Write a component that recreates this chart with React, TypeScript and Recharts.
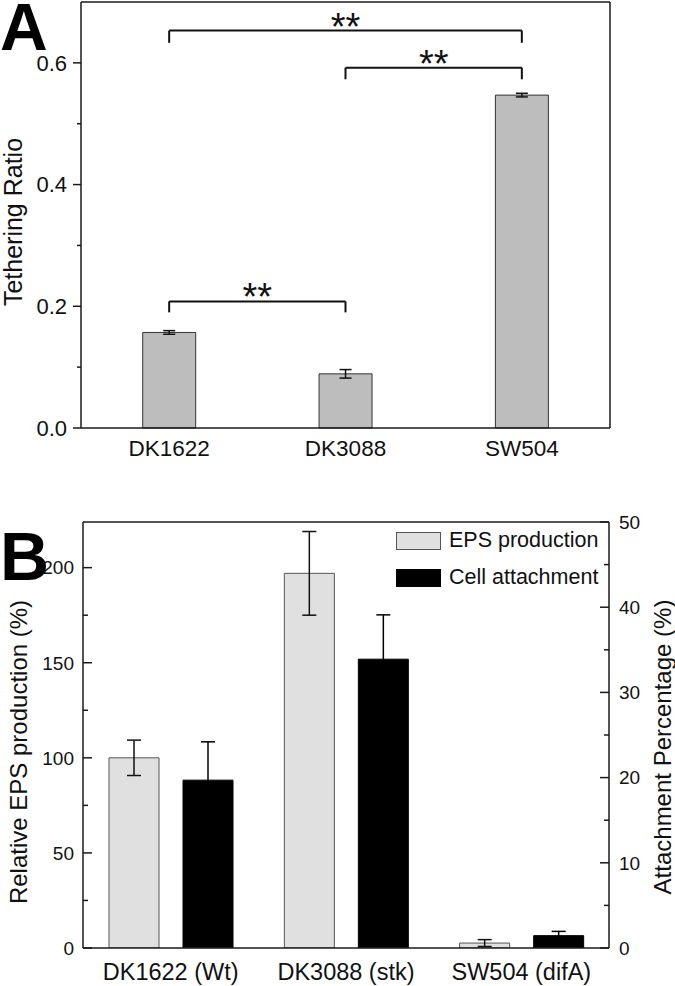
import React from 'react';
import { BarChart, Bar, XAxis, YAxis, ErrorBar, ReferenceLine, Legend } from 'recharts';

const FONT = '"Liberation Sans", Arial, Helvetica, sans-serif';

// ---------- Panel A ----------
const strainsA = ['DK1622', 'DK3088', 'SW504'];
const tetheringRatio = [0.157, 0.089, 0.547];
const tetheringError = [0.003, 0.007, 0.003];
const yTicksA = [0, 0.1, 0.2, 0.3, 0.4, 0.5, 0.6];
const yDomainA = [0, 0.7];
const edgeTicksA = [0, 3];
const bracketsA = [
  { from: 'DK1622', to: 'SW504', top: 0.653, leg: 0.633, label: '**' },
  { from: 'DK3088', to: 'SW504', top: 0.592, leg: 0.573, label: '**' },
  { from: 'DK1622', to: 'DK3088', top: 0.208, leg: 0.19, label: '**' },
];

// ---------- Panel B ----------
const strainsB = ['DK1622 (Wt)', 'DK3088 (stk)', 'SW504 (difA)'];
const seriesNamesB = ['EPS production', 'Cell attachment'];
const epsProduction = [100, 197, 2.6];
const epsError = [9.3, 22, 1.8];
const cellAttachment = [19.7, 33.9, 1.45];
const cellError = [4.5, 5.2, 0.5];
const yTicksBLeft = [0, 25, 50, 75, 100, 125, 150, 175, 200];
const yDomainBLeft = [0, 224];
const yTicksBRight = [0, 5, 10, 15, 20, 25, 30, 35, 40, 45, 50];
const yDomainBRight = [0, 50];
const edgeTicksB = [0, 1, 2, 3];

const dataA = strainsA.map((s, i) => ({ strain: s, ratio: tetheringRatio[i], err: tetheringError[i] }));
const dataB = strainsB.map((s, i) => ({
  strain: s,
  eps: epsProduction[i],
  epsErr: epsError[i],
  cell: cellAttachment[i],
  cellErr: cellError[i],
}));

const AXIS = '#1a1a1a';

const LeftTickA = (props: any) => {
  const { x, y, payload } = props;
  const v = payload.value as number;
  const major = Math.round(v * 10) % 2 === 0;
  return (
    <g>
      <line x1={x} y1={y} x2={x - (major ? 8 : 4)} y2={y} stroke={AXIS} strokeWidth={1.5} />
      {major && (
        <text x={x - 14} y={y} dy="0.36em" textAnchor="end" fontSize={22} fontFamily={FONT} fill="#111">
          {v.toFixed(1)}
        </text>
      )}
    </g>
  );
};

const LeftTickB = (props: any) => {
  const { x, y, payload } = props;
  const v = payload.value as number;
  const major = v % 50 === 0;
  return (
    <g>
      <line x1={x} y1={y} x2={x + (major ? 9 : 5)} y2={y} stroke={AXIS} strokeWidth={1.5} />
      {major && (
        <text x={x - 9} y={y} dy="0.36em" textAnchor="end" fontSize={19} fontFamily={FONT} fill="#111">
          {v}
        </text>
      )}
    </g>
  );
};

const RightTickB = (props: any) => {
  const { x, y, payload } = props;
  const v = payload.value as number;
  const major = v % 10 === 0;
  return (
    <g>
      <line x1={x} y1={y} x2={x - (major ? 9 : 5)} y2={y} stroke={AXIS} strokeWidth={1.5} />
      {major && (
        <text x={x + 10} y={y} dy="0.36em" textAnchor="start" fontSize={19} fontFamily={FONT} fill="#111">
          {v}
        </text>
      )}
    </g>
  );
};

const starLabel = (text: string) => (props: any) => {
  const vb = props.viewBox || {};
  const cx = (vb.x || 0) + (vb.width || 0) / 2;
  const y = vb.y || 0;
  return (
    <text x={cx} y={y + 9} textAnchor="middle" fontSize={38} fontFamily={FONT} fill="#111">
      {text}
    </text>
  );
};

const renderLegend = (props: any) => {
  const payload = [...(props.payload || [])].sort(
    (a: any, b: any) => seriesNamesB.indexOf(a.value) - seriesNamesB.indexOf(b.value)
  );
  return (
    <div style={{ fontFamily: FONT }}>
      {payload.map((entry: any, i: number) => (
        <div key={i} style={{ display: 'flex', alignItems: 'center', height: 37 }}>
          <div
            style={{
              width: 45,
              height: 18,
              background: entry.color,
              border: `1.5px solid ${entry.value === seriesNamesB[0] ? '#555' : '#000'}`,
              boxSizing: 'border-box',
            }}
          />
          <span style={{ marginLeft: 8, fontSize: 21.5, color: '#111', whiteSpace: 'nowrap' }}>{entry.value}</span>
        </div>
      ))}
    </div>
  );
};

export default function App() {
  return (
    <div style={{ position: 'absolute', left: 0, top: 0, width: 675, height: 986, background: '#fff', fontFamily: FONT }}>
      {/* Panel A */}
      <div style={{ position: 'absolute', left: 0, top: 0 }}>
        <BarChart
          width={675}
          height={470}
          data={dataA}
          margin={{ top: 1, right: 64, bottom: 40, left: 21 }}
          barCategoryGap="35%"
        >
          <XAxis
            xAxisId="cat"
            dataKey="strain"
            height={1}
            axisLine={{ stroke: AXIS, strokeWidth: 1.5 }}
            tickLine={false}
            tickSize={0}
            tickMargin={12}
            tick={{ fontSize: 22.5, fill: '#111', fontFamily: FONT }}
            interval={0}
          />
          <XAxis
            xAxisId="edge"
            type="number"
            domain={[0, 3]}
            ticks={edgeTicksA}
            allowDataOverflow
            height={1}
            axisLine={false}
            tickLine={{ stroke: AXIS, strokeWidth: 1.5 }}
            tickSize={8}
            tick={false}
          />
          <XAxis
            xAxisId="top"
            dataKey="strain"
            orientation="top"
            height={1}
            axisLine={{ stroke: AXIS, strokeWidth: 1.5 }}
            tickLine={false}
            tick={false}
          />
          <YAxis
            yAxisId="a"
            domain={yDomainA}
            ticks={yTicksA}
            width={60}
            interval={0}
            axisLine={{ stroke: AXIS, strokeWidth: 1.5 }}
            tickLine={false}
            tickSize={0}
            tickMargin={0}
            tick={<LeftTickA />}
          />
          <YAxis
            yAxisId="frame"
            orientation="right"
            domain={yDomainA}
            width={1}
            axisLine={{ stroke: AXIS, strokeWidth: 1.5 }}
            tickLine={false}
            tick={false}
          />
          <Bar
            xAxisId="cat"
            yAxisId="a"
            dataKey="ratio"
            fill="#bdbdbd"
            stroke="#333"
            strokeWidth={1}
            isAnimationActive={false}
          >
            <ErrorBar dataKey="err" width={6} stroke="#111" strokeWidth={1.5} />
          </Bar>
          {bracketsA.map((b, i) => (
            <ReferenceLine
              key={`h${i}`}
              xAxisId="cat"
              yAxisId="a"
              segment={[
                { x: b.from, y: b.top },
                { x: b.to, y: b.top },
              ]}
              stroke="#111"
              strokeWidth={2}
              label={starLabel(b.label)}
            />
          ))}
          {bracketsA.map((b, i) => (
            <ReferenceLine
              key={`l${i}`}
              xAxisId="cat"
              yAxisId="a"
              segment={[
                { x: b.from, y: b.top },
                { x: b.from, y: b.leg },
              ]}
              stroke="#111"
              strokeWidth={2}
            />
          ))}
          {bracketsA.map((b, i) => (
            <ReferenceLine
              key={`r${i}`}
              xAxisId="cat"
              yAxisId="a"
              segment={[
                { x: b.to, y: b.top },
                { x: b.to, y: b.leg },
              ]}
              stroke="#111"
              strokeWidth={2}
            />
          ))}
        </BarChart>
      </div>

      {/* Panel B */}
      <div style={{ position: 'absolute', left: 0, top: 480 }}>
        <BarChart
          width={675}
          height={506}
          data={dataB}
          margin={{ top: 41, right: 6, bottom: 36, left: 23 }}
          barCategoryGap={26}
          barGap={24}
        >
          <XAxis
            xAxisId="cat"
            dataKey="strain"
            height={1}
            axisLine={{ stroke: AXIS, strokeWidth: 1.5 }}
            tickLine={false}
            tickSize={0}
            tickMargin={15}
            tick={{ fontSize: 23.5, fill: '#111', fontFamily: FONT }}
            interval={0}
          />
          <XAxis
            xAxisId="edge"
            type="number"
            domain={[0, 3]}
            ticks={edgeTicksB}
            allowDataOverflow
            height={1}
            axisLine={false}
            tickLine={{ stroke: AXIS, strokeWidth: 1.5 }}
            tickSize={8}
            tick={false}
          />
          <XAxis
            xAxisId="top"
            dataKey="strain"
            orientation="top"
            height={1}
            axisLine={{ stroke: AXIS, strokeWidth: 1.5 }}
            tickLine={false}
            tick={false}
          />
          <YAxis
            yAxisId="left"
            domain={yDomainBLeft}
            ticks={yTicksBLeft}
            allowDataOverflow
            width={60}
            interval={0}
            axisLine={{ stroke: AXIS, strokeWidth: 1.5 }}
            tickLine={false}
            tickSize={0}
            tickMargin={0}
            tick={<LeftTickB />}
          />
          <YAxis
            yAxisId="right"
            orientation="right"
            domain={yDomainBRight}
            ticks={yTicksBRight}
            allowDataOverflow
            width={60}
            interval={0}
            axisLine={{ stroke: AXIS, strokeWidth: 1.5 }}
            tickLine={false}
            tickSize={0}
            tickMargin={0}
            tick={<RightTickB />}
          />
          <Legend
            layout="horizontal"
            align="center"
            verticalAlign="middle"
            content={renderLegend}
            wrapperStyle={{ left: 396, top: 42, width: 'auto' }}
          />
          <Bar
            xAxisId="cat"
            yAxisId="left"
            dataKey="eps"
            name={seriesNamesB[0]}
            fill="#e0e0e0"
            stroke="#555"
            strokeWidth={1}
            isAnimationActive={false}
          >
            <ErrorBar dataKey="epsErr" width={7} stroke="#111" strokeWidth={1.5} />
          </Bar>
          <Bar
            xAxisId="cat"
            yAxisId="right"
            dataKey="cell"
            name={seriesNamesB[1]}
            fill="#000"
            stroke="#000"
            strokeWidth={1}
            isAnimationActive={false}
          >
            <ErrorBar dataKey="cellErr" width={7} stroke="#000" strokeWidth={1.5} />
          </Bar>
        </BarChart>
      </div>

      {/* Panel letters and axis titles */}
      <svg
        width={675}
        height={986}
        style={{ position: 'absolute', left: 0, top: 0, pointerEvents: 'none' }}
      >
        <text x={0} y={50} fontSize={66} fontWeight="bold" fontFamily={FONT} fill="#000">A</text>
        <text x={0} y={580} fontSize={68} fontWeight="bold" fontFamily={FONT} fill="#000">B</text>
        <text
          x={13}
          y={222}
          transform="rotate(-90, 13, 222)"
          textAnchor="middle"
          dominantBaseline="central"
          fontSize={25}
          fontFamily={FONT}
          fill="#111"
        >
          Tethering Ratio
        </text>
        <text
          x={18}
          y={752}
          transform="rotate(-90, 18, 752)"
          textAnchor="middle"
          dominantBaseline="central"
          fontSize={24}
          fontFamily={FONT}
          fill="#111"
        >
          Relative EPS production (%)
        </text>
        <text
          x={662}
          y={747}
          transform="rotate(-90, 662, 747)"
          textAnchor="middle"
          dominantBaseline="central"
          fontSize={24}
          fontFamily={FONT}
          fill="#111"
        >
          Attachment Percentage (%)
        </text>
      </svg>
    </div>
  );
}
